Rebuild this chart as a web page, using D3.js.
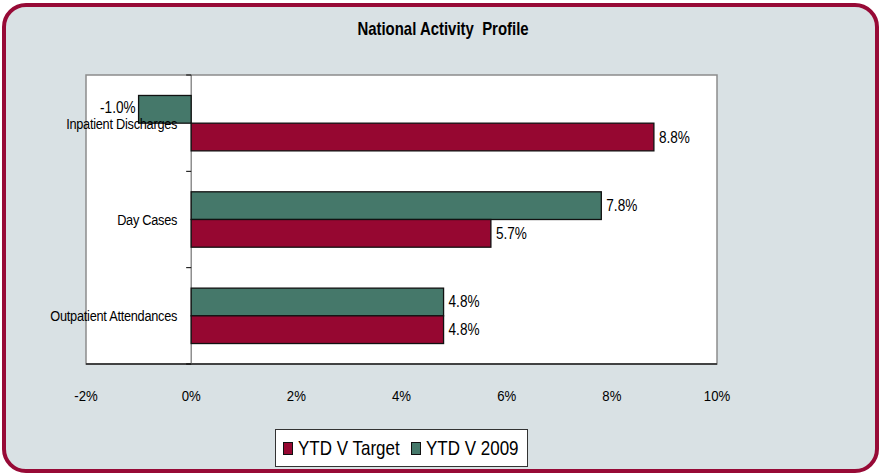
<!DOCTYPE html>
<html><head><meta charset="utf-8">
<script src="https://cdn.jsdelivr.net/npm/d3@7"></script>
<style>
html,body{margin:0;padding:0;background:#fff;}
svg{display:block;}
text{font-family:"Liberation Sans",Arial,sans-serif;}
</style></head>
<body><svg id="c" width="882" height="476"></svg>
<script>
const categories = ["Inpatient Discharges","Day Cases","Outpatient Attendances"];
const seriesNames = ["YTD V Target","YTD V 2009"];
const ytdVsTarget = [8.8, 5.7, 4.8];
const ytdVs2009 = [-1.0, 7.8, 4.8];
const xTicks = [-2,0,2,4,6,8,10];
const colors = {"YTD V Target":"#960731","YTD V 2009":"#45786a"};
const SX = 0.85; // narrow-font condensing

const svg = d3.select("#c");
function ntext(sel, fx, fy){
  return sel.attr("transform",(d,i)=>`translate(${fx(d,i)},${fy(d,i)}) scale(${SX},1)`);
}
// frame
svg.append("rect").attr("x",4).attr("y",5).attr("width",873).attr("height",466)
  .attr("rx",22).attr("ry",22).attr("fill","#d9e1e4").attr("stroke","#970a36").attr("stroke-width",4);

svg.append("text").attr("transform",`translate(443,35) scale(0.83,1)`).attr("text-anchor","middle")
  .attr("font-weight","bold").attr("font-size",18).attr("fill","#000").attr("xml:space","preserve")
  .style("white-space","pre").text("National Activity  Profile");

const L=86,R=717,T=75,B=364;
const x = d3.scaleLinear().domain([-2,10]).range([L,R]);
const y = d3.scaleBand().domain(categories).range([T,B]).paddingInner(0.425).paddingOuter(0.2125);
const yi = d3.scaleBand().domain(["YTD V 2009","YTD V Target"]).range([0,y.bandwidth()]);

svg.append("rect").attr("x",L).attr("y",T).attr("width",R-L).attr("height",B-T)
  .attr("fill","#fff").attr("stroke","#8c8c8c").attr("stroke-width",1.5);
svg.append("line").attr("x1",L).attr("x2",R).attr("y1",B).attr("y2",B).attr("stroke","#222").attr("stroke-width",1.5);

const data = [];
categories.forEach((c,i)=>{
  data.push({cat:c, s:"YTD V 2009", v:ytdVs2009[i]});
  data.push({cat:c, s:"YTD V Target", v:ytdVsTarget[i]});
});

// zero axis
const step = y.step();
svg.append("line").attr("x1",x(0)).attr("x2",x(0)).attr("y1",T).attr("y2",B).attr("stroke","#555").attr("stroke-width",1);
const tickYs = [T].concat(categories.map(c=>y(c)+y.bandwidth()/2+step/2));
svg.selectAll(".yt").data(tickYs).join("line").attr("x1",x(0)-5).attr("x2",x(0))
  .attr("y1",d=>d).attr("y2",d=>d).attr("stroke","#000");

svg.selectAll(".bar").data(data).join("rect")
  .attr("x",d=>x(Math.min(0,d.v))).attr("width",d=>Math.abs(x(d.v)-x(0)))
  .attr("y",d=>y(d.cat)+yi(d.s)).attr("height",yi.bandwidth())
  .attr("fill",d=>colors[d.s]).attr("stroke","#111").attr("stroke-width",1.3);

ntext(svg.selectAll(".cl").data(categories).join("text"),
  ()=>x(0)-14, c=>y(c)+y.bandwidth()/2+5.5)
  .attr("text-anchor","end").attr("font-size",15).attr("letter-spacing",-0.3).attr("fill","#000").text(c=>c);

ntext(svg.selectAll(".vl").data(data).join("text"),
  d=>d.v<0 ? x(d.v)-3 : x(d.v)+5,
  d=>y(d.cat)+yi(d.s)+yi.bandwidth()/2 + (d.v<0?3.5:5.5))
  .attr("text-anchor",d=>d.v<0?"end":"start").attr("font-size",16).attr("fill","#000")
  .text(d=>d.v.toFixed(1)+"%");

ntext(svg.selectAll(".xt").data(xTicks).join("text"),
  d=>x(d), ()=>400.5)
  .attr("text-anchor","middle").attr("font-size",15.5).attr("fill","#000").text(d=>d+"%");

// legend
const lg = svg.append("g");
lg.append("rect").attr("x",275.5).attr("y",429.5).attr("width",252).attr("height",37)
  .attr("fill","#fff").attr("stroke","#333").attr("stroke-width",1);
const lx = [283, 411];
seriesNames.forEach((s,i)=>{
  lg.append("rect").attr("x",lx[i]+0.5).attr("y",442.5).attr("width",9).attr("height",12)
    .attr("fill",colors[s]).attr("stroke","#111").attr("stroke-width",1);
  lg.append("text").attr("transform",`translate(${lx[i]+15},455) scale(0.85,1)`)
    .attr("font-size",20).attr("fill","#000").text(s);
});
</script></body></html>
